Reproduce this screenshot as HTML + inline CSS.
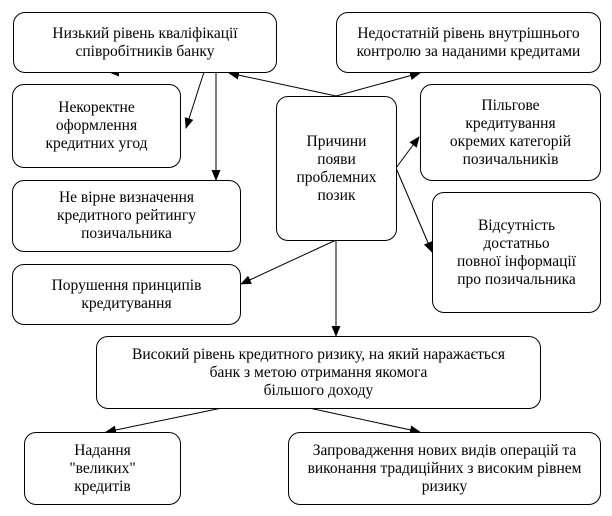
<!DOCTYPE html>
<html><head><meta charset="utf-8"><style>
body{margin:0;background:#fff;width:612px;height:516px;overflow:hidden;position:relative;font-family:"Liberation Serif",serif;font-size:15.5px;color:#000}
.b{position:absolute;border:1px solid #000;border-radius:12px;box-sizing:border-box;display:flex;align-items:center;justify-content:center;text-align:center;line-height:18px;background:#fff;white-space:nowrap}
svg{position:absolute;left:0;top:0}
</style></head><body>
<svg width="612" height="516"><defs><marker id="a" markerWidth="11" markerHeight="9" refX="10" refY="4.5" orient="auto" markerUnits="userSpaceOnUse"><path d="M0,0L11,4.5L0,9z"/></marker></defs>
<g stroke="#000" stroke-width="1" fill="none">
<line x1="336" y1="96" x2="229" y2="73" marker-end="url(#a)"/>
<line x1="336" y1="96" x2="420" y2="73" marker-end="url(#a)"/>
<line x1="216" y1="72" x2="109" y2="72" marker-end="url(#a)"/>
<line x1="204" y1="72" x2="186" y2="128" marker-end="url(#a)"/>
<line x1="216" y1="72" x2="216" y2="180" marker-end="url(#a)"/>
<line x1="396" y1="168" x2="419" y2="137" marker-end="url(#a)"/>
<line x1="396" y1="168" x2="432" y2="252" marker-end="url(#a)"/>
<line x1="336" y1="240" x2="241" y2="284" marker-end="url(#a)"/>
<line x1="336" y1="240" x2="336" y2="336" marker-end="url(#a)"/>
<line x1="222" y1="408" x2="106" y2="432" marker-end="url(#a)"/>
<line x1="309" y1="408" x2="420" y2="432" marker-end="url(#a)"/>
</g></svg>
<div class="b" style="left:13px;top:12px;width:264px;height:61px">Низький рівень кваліфікації<br>співробітників банку</div>
<div class="b" style="left:12px;top:84px;width:169px;height:84px">Некоректне<br>оформлення<br>кредитних угод</div>
<div class="b" style="left:12px;top:180px;width:229px;height:72px">Не вірне визначення<br>кредитного рейтингу<br>позичальника</div>
<div class="b" style="left:276px;top:96px;width:121px;height:145px">Причини<br>появи<br>проблемних<br>позик</div>
<div class="b" style="left:336px;top:12px;width:265px;height:61px">Недостатній рівень внутрішнього<br>контролю за наданими кредитами</div>
<div class="b" style="left:420px;top:84px;width:181px;height:97px">Пільгове<br>кредитування<br>окремих категорій<br>позичальників</div>
<div class="b" style="left:432px;top:192px;width:169px;height:121px">Відсутність<br>достатньо<br>повної інформації<br>про позичальника</div>
<div class="b" style="left:12px;top:264px;width:229px;height:61px">Порушення принципів<br>кредитування</div>
<div class="b" style="left:96px;top:336px;width:445px;height:73px">Високий рівень кредитного ризику, на який наражається<br>банк з метою отримання якомога<br>більшого доходу</div>
<div class="b" style="left:24px;top:432px;width:157px;height:73px">Надання<br>"великих"<br>кредитів</div>
<div class="b" style="left:288px;top:432px;width:313px;height:73px">Запровадження нових видів операцій та<br>виконання традиційних з високим рівнем<br>ризику</div>
</body></html>
